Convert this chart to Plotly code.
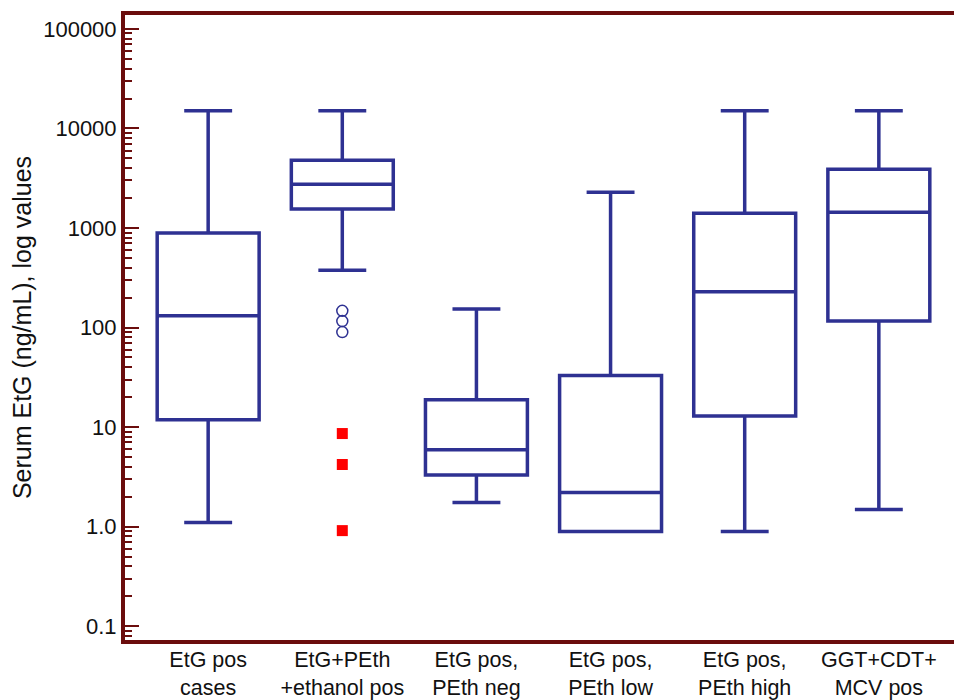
import plotly.graph_objects as go

categories = ["EtG pos<br>cases", "EtG+PEth<br>+ethanol pos", "EtG pos,<br>PEth neg",
              "EtG pos,<br>PEth low", "EtG pos,<br>PEth high", "GGT+CDT+<br>MCV pos"]
lower_whisker = [1.1, 377, 1.74, 0.89, 0.89, 1.48]
q1 = [11.8, 1550, 3.3, 0.89, 12.9, 116]
median = [131, 2750, 5.9, 2.2, 229, 1440]
q3 = [890, 4800, 18.8, 33, 1410, 3900]
upper_whisker = [15100, 15100, 153, 2290, 15100, 15100]

circle_outliers_cat = [categories[1]] * 3
circle_outliers_val = [147, 116, 90]
square_outliers_cat = [categories[1]] * 3
square_outliers_val = [8.6, 4.2, 0.91]

tick_vals = [0.1, 1, 10, 100, 1000, 10000, 100000]
tick_text = ["0.1", "1.0", "10", "100", "1000", "10000", "100000"]

BLUE = "#2e3192"
AXIS = "#6b0d0d"

fig = go.Figure()
fig.add_trace(go.Box(
    x=categories, q1=q1, median=median, q3=q3,
    lowerfence=lower_whisker, upperfence=upper_whisker,
    boxpoints=False, width=0.76, whiskerwidth=0.47,
    line=dict(color=BLUE, width=3.5), fillcolor="rgba(255,255,255,0)",
    showlegend=False, hoverinfo="skip"))
fig.add_trace(go.Scatter(
    x=circle_outliers_cat, y=circle_outliers_val, mode="markers",
    marker=dict(symbol="circle-open", size=11, color=BLUE, line=dict(width=1.5)),
    showlegend=False))
fig.add_trace(go.Scatter(
    x=square_outliers_cat, y=square_outliers_val, mode="markers",
    marker=dict(symbol="square", size=11, color="#ff0000"),
    showlegend=False))

fig.update_layout(
    width=954, height=692,
    margin=dict(l=117, r=0, t=7, b=60),
    paper_bgcolor="white", plot_bgcolor="white",
    font=dict(family="Liberation Sans, Arial, sans-serif", size=22, color="#111"),
    xaxis=dict(range=[-0.62, 5.62], showline=True, linecolor=AXIS, linewidth=4,
               mirror=True, ticks="", showgrid=False, zeroline=False,
               automargin=False, tickfont=dict(size=21.5), ticklabelstandoff=-3),
    yaxis=dict(type="log", range=[-1.14, 5.14], showline=True, linecolor=AXIS,
               linewidth=4, ticks="inside", ticklen=14, tickwidth=2, tickcolor=AXIS,
               tickvals=tick_vals, ticktext=tick_text, showgrid=False, zeroline=False,
               automargin=False,
               minor=dict(ticks="inside", ticklen=7, tickwidth=2, tickcolor=AXIS,
                          dtick="D1", showgrid=False),
               title=dict(text="Serum EtG (ng/mL), log values", font=dict(size=25),
                          standoff=6),
               tickfont=dict(size=22)),
)

fig.write_html("out.html")
